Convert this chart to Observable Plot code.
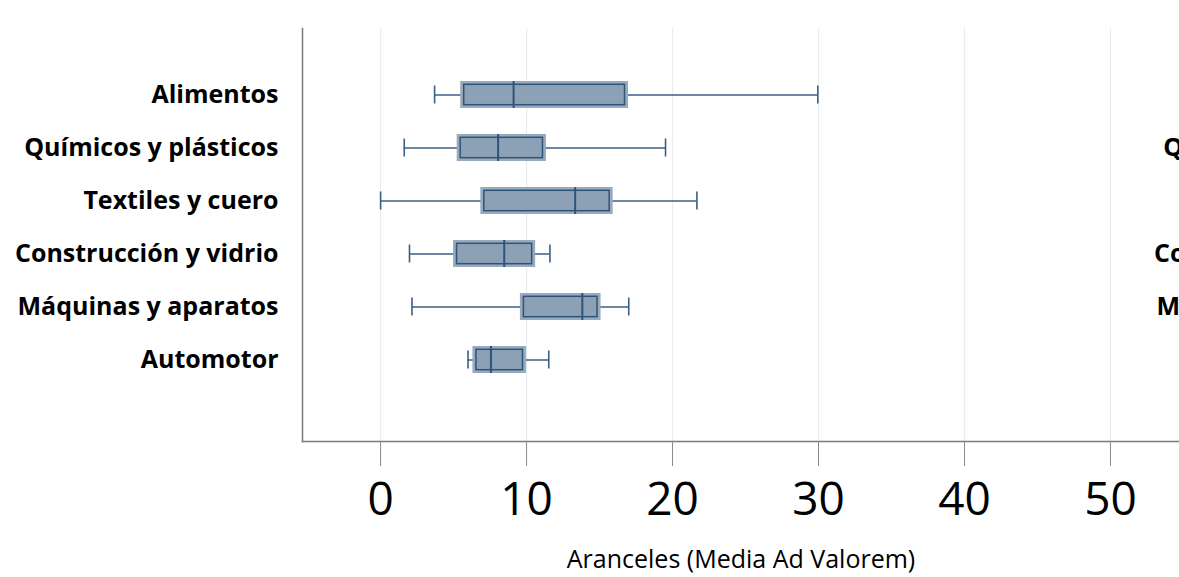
<!DOCTYPE html>
<html>
<head>
<meta charset="utf-8">
<script src="https://cdn.jsdelivr.net/npm/d3@7"></script>
<script src="https://cdn.jsdelivr.net/npm/@observablehq/plot@0.6"></script>
<style>
  html, body { margin: 0; padding: 0; background: #fff; overflow: hidden; }
  #chart svg { font-family: "Open Sans", sans-serif; background: #fff; }
</style>
</head>
<body>
<div id="chart"></div>
<script>
// Sectors (categories)
const sectors = ["Alimentos", "Químicos y plásticos", "Textiles y cuero", "Construcción y vidrio", "Máquinas y aparatos", "Automotor"];
// Box-plot statistics (tariff, ad valorem mean, %)
const minVals    = [3.70, 1.62, 0.00, 1.98, 2.15, 5.99];
const q1Vals     = [5.59, 5.35, 6.97, 5.10, 9.68, 6.43];
const medianVals = [9.11, 8.05, 13.33, 8.47, 13.82, 7.56];
const q3Vals     = [16.88, 11.26, 15.83, 10.52, 15.00, 9.89];
const maxVals    = [29.95, 19.52, 21.67, 11.60, 17.00, 11.52];
// Axis ticks
const xTicks = [0, 10, 20, 30, 40, 50];
const xTitle = "Aranceles (Media Ad Valorem)";

const data = sectors.map((s, i) => ({
  sector: s, min: minVals[i], q1: q1Vals[i], med: medianVals[i], q3: q3Vals[i], max: maxVals[i]
}));

const dark = "#2f5479";
const chart = Plot.plot({
  width: 1179,
  height: 577,
  marginLeft: 302,
  marginRight: 0,
  marginTop: 28,
  marginBottom: 136,
  x: {domain: [-5.35, 54.73]},
  y: {type: "band", domain: sectors, range: [65.45, 387.65], paddingInner: 0.5, paddingOuter: 0.25},
  marks: [
    Plot.gridX(xTicks, {stroke: "#e8edf1", strokeOpacity: 1, strokeWidth: 1.2}),
    Plot.frame({anchor: "left", stroke: "#7a7a7a", strokeWidth: 1.5}),
    Plot.frame({anchor: "bottom", stroke: "#7a7a7a", strokeWidth: 1.5}),
    Plot.axisX({ticks: xTicks, tickSize: 25, tickPadding: 16, fontSize: 46, stroke: "#8a8a8a", label: null}),
    Plot.axisX({ticks: [], tickSize: 0, fontSize: 25, label: xTitle, labelAnchor: "center",
                labelArrow: "none", labelOffset: 126}),
    Plot.axisY({tickSize: 0, tickPadding: 24, fontSize: 25, fontWeight: "bold", label: null}),
    // whiskers
    Plot.ruleY(data, {y: "sector", x1: "min", x2: "max", stroke: "#3a5f83", strokeWidth: 1.4}),
    Plot.tickX(data, {x: "min", y: "sector", stroke: "#3a5f83", strokeWidth: 1.6, insetTop: 4.5, insetBottom: 4.5}),
    Plot.tickX(data, {x: "max", y: "sector", stroke: "#3a5f83", strokeWidth: 1.6, insetTop: 4.5, insetBottom: 4.5}),
    // boxes
    Plot.barX(data, {y: "sector", x1: "q1", x2: "q3", fill: "#8ca1b6", stroke: "#98aabd", strokeWidth: 3,
                     insetTop: 1.5, insetBottom: 1.5}),
    Plot.barX(data, {y: "sector", x1: "q1", x2: "q3", fill: "none", stroke: dark, strokeWidth: 1.5,
                     insetTop: 3.3, insetBottom: 3.3, insetLeft: 2, insetRight: 2}),
    Plot.tickX(data, {x: "med", y: "sector", stroke: dark, strokeWidth: 2}),
    // labels of the adjacent (cut-off) panel
    Plot.text(sectors, {y: d => d, frameAnchor: "right", dx: 238, textAnchor: "end",
                        fontSize: 25, fontWeight: "bold", fill: "black"})
  ]
});
document.getElementById("chart").appendChild(chart);
</script>
</body>
</html>
